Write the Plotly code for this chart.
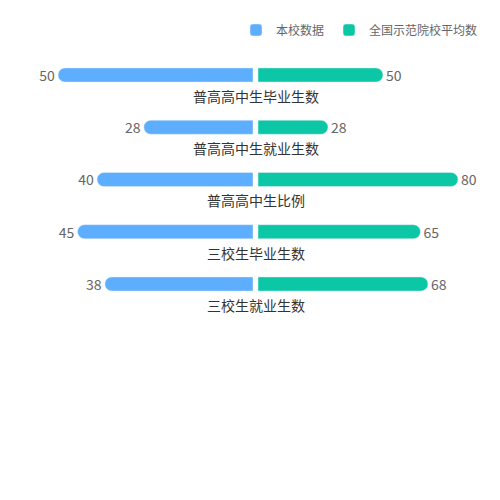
import plotly.graph_objects as go

categories = ["普高高中生毕业生数", "普高高中生就业生数", "普高高中生比例", "三校生毕业生数", "三校生就业生数"]
school = [50, 28, 40, 45, 38]
national = [50, 28, 80, 65, 68]
ypos = list(range(len(categories)))

fig = go.Figure()
fig.add_trace(go.Bar(x=school, y=ypos, orientation="h", name="本校数据", xaxis="x", yaxis="y",
                     marker=dict(color="#5DAEFF", cornerradius=7), width=0.27,
                     text=school, textposition="outside", cliponaxis=False, constraintext="none",
                     textfont=dict(color="#666", size=14)))
fig.add_trace(go.Bar(x=national, y=ypos, orientation="h", name="全国示范院校平均数", xaxis="x2", yaxis="y",
                     marker=dict(color="#0CC7A6", cornerradius=7), width=0.27,
                     text=national, textposition="outside", cliponaxis=False, constraintext="none",
                     textfont=dict(color="#666", size=14)))
for i, c in enumerate(categories):
    fig.add_annotation(x=0.495, xref="paper", y=i + 0.4, yref="y", text=c, showarrow=False,
                       font=dict(color="#333", size=14))
fig.update_layout(
    width=500, height=500, margin=dict(l=0, r=0, t=0, b=0),
    plot_bgcolor="white", paper_bgcolor="white",
    font=dict(family="Noto Sans CJK SC"),
    xaxis=dict(domain=[0.1, 0.49], range=[50, 0], visible=False),
    xaxis2=dict(domain=[0.5, 0.9], range=[0, 80], visible=False),
    yaxis=dict(range=[8.287, -1.282], visible=False),
    showlegend=True,
    legend=dict(orientation="h", x=0.95, xanchor="right", y=0.985, yanchor="top",
                font=dict(color="#666", size=12), itemwidth=30),
)
fig.write_html("out.html")
